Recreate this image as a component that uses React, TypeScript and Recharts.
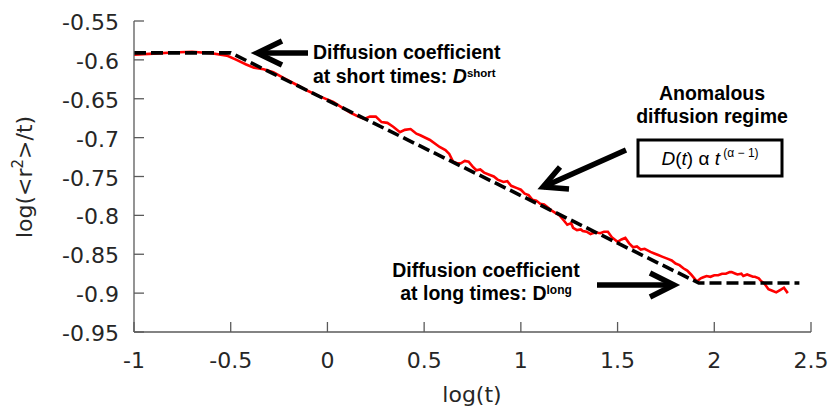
import React from 'react';
import { LineChart, Line, XAxis, YAxis } from 'recharts';

// Tick values
const xTicks = [-1, -0.5, 0, 0.5, 1, 1.5, 2, 2.5];
const yTicks = [-0.95, -0.9, -0.85, -0.8, -0.75, -0.7, -0.65, -0.6, -0.55];

// Measured mean-square displacement curve: log(t) and log(<r^2>/t)
const msdLogT = [
  -1.0, -0.9, -0.8, -0.7, -0.6, -0.52, -0.47, -0.42, -0.38, -0.33, -0.28, -0.22, -0.16, -0.1, -0.04,
  0.03, 0.08, 0.12, 0.16, 0.19, 0.22, 0.25, 0.28, 0.31, 0.34, 0.375, 0.4, 0.43, 0.46, 0.48,
  0.53, 0.58, 0.61, 0.63, 0.65, 0.67, 0.69, 0.71, 0.73, 0.75, 0.77, 0.79, 0.81, 0.84, 0.86,
  0.88, 0.91, 0.93, 0.95, 0.98, 1.0, 1.02, 1.04, 1.06, 1.08, 1.1, 1.12, 1.14, 1.16, 1.18,
  1.2, 1.22, 1.24, 1.26, 1.27, 1.29, 1.31, 1.32, 1.34, 1.36, 1.37, 1.39, 1.41, 1.43, 1.45,
  1.47, 1.49, 1.5, 1.52, 1.54, 1.56, 1.58, 1.6, 1.62, 1.64, 1.67, 1.69, 1.71, 1.73, 1.76,
  1.78, 1.8, 1.82, 1.84, 1.86, 1.88, 1.9, 1.91, 1.93, 1.94, 1.96, 1.98, 2.0, 2.02, 2.04,
  2.06, 2.08, 2.09, 2.11, 2.12, 2.14, 2.15, 2.17, 2.18, 2.2, 2.21, 2.23, 2.24, 2.26, 2.28,
  2.3, 2.32, 2.34, 2.36, 2.38,
];
const msdLogR2t = [
  -0.5935, -0.592, -0.5905, -0.5895, -0.5915, -0.5945, -0.6, -0.606, -0.61, -0.612, -0.616, -0.624, -0.632, -0.64, -0.647,
  -0.654, -0.662, -0.668, -0.673, -0.676, -0.673, -0.673, -0.68, -0.681, -0.686, -0.693, -0.69, -0.689, -0.695, -0.697,
  -0.703, -0.712, -0.716, -0.721, -0.731, -0.733, -0.733, -0.73, -0.731, -0.737, -0.742, -0.741, -0.745, -0.748, -0.75,
  -0.754, -0.757, -0.756, -0.762, -0.765, -0.767, -0.772, -0.774, -0.78, -0.781, -0.785, -0.786, -0.79, -0.794, -0.797,
  -0.8, -0.806, -0.812, -0.81, -0.816, -0.819, -0.818, -0.82, -0.821, -0.824, -0.823, -0.822, -0.823, -0.821, -0.821,
  -0.828, -0.832, -0.834, -0.831, -0.829, -0.836, -0.841, -0.84, -0.844, -0.843, -0.847, -0.849, -0.851, -0.853, -0.856,
  -0.858, -0.862, -0.864, -0.868, -0.871, -0.876, -0.882, -0.885, -0.881, -0.88, -0.878, -0.879, -0.877, -0.877, -0.875,
  -0.875, -0.873, -0.873, -0.875, -0.876, -0.875, -0.878, -0.876, -0.877, -0.879, -0.879, -0.881, -0.884, -0.888, -0.895,
  -0.897, -0.899, -0.896, -0.893, -0.9,
];

// Piecewise fit: short-time plateau, anomalous power-law regime, long-time plateau
const fitLogT = [-1.0, -0.5, 1.92, 2.44];
const fitLogR2t = [-0.591, -0.591, -0.887, -0.887];

const measured = msdLogT.map((x, i) => ({ x, y: msdLogR2t[i] }));
const fit = fitLogT.map((x, i) => ({ x, y: fitLogR2t[i] }));

const AXIS = '#5a5a5a';
const TXT = '#262626';
const TICK_FONT = '"DejaVu Sans", Verdana, sans-serif';
const NOTE_FONT = '"Liberation Sans", Arial, sans-serif';
const TICK_LEN = 10;

const BottomTick = (props: any) => {
  const { x, y, payload } = props;
  return (
    <g>
      <line x1={x} y1={y} x2={x} y2={y - TICK_LEN} stroke={AXIS} strokeWidth={1.3} />
      <text x={x} y={y + 36} textAnchor="middle" fontSize={22} fontFamily={TICK_FONT} fill={TXT}>
        {String(payload.value)}
      </text>
    </g>
  );
};

const TopTick = (props: any) => {
  const { x, y } = props;
  return <line x1={x} y1={y} x2={x} y2={y + TICK_LEN} stroke={AXIS} strokeWidth={1.3} />;
};

const LeftTick = (props: any) => {
  const { x, y, payload } = props;
  return (
    <g>
      <line x1={x} y1={y} x2={x + TICK_LEN} y2={y} stroke={AXIS} strokeWidth={1.3} />
      <text x={x - 15} y={y + 9} textAnchor="end" fontSize={22} fontFamily={TICK_FONT} fill={TXT}>
        {String(payload.value)}
      </text>
    </g>
  );
};

const RightTick = (props: any) => {
  const { x, y } = props;
  return <line x1={x} y1={y} x2={x - TICK_LEN} y2={y} stroke={AXIS} strokeWidth={1.3} />;
};

const Arrow = ({ from, to, arms }: { from: [number, number]; to: [number, number]; arms: [number, number][] }) => (
  <g stroke="#000" strokeWidth={5.5} fill="none" strokeLinecap="butt" strokeLinejoin="miter">
    <line x1={from[0]} y1={from[1]} x2={to[0]} y2={to[1]} />
    <polyline points={`${arms[0][0]},${arms[0][1]} ${to[0]},${to[1]} ${arms[1][0]},${arms[1][1]}`} />
  </g>
);

export default function App() {
  const axisLine = { stroke: AXIS, strokeWidth: 1.3 };
  return (
    <div style={{ position: 'absolute', left: 0, top: 0, width: 833, height: 410, background: '#fff', fontFamily: TICK_FONT }}>
      <LineChart width={833} height={410} margin={{ top: 21, right: 22, bottom: 0, left: 0 }}>
        <XAxis
          type="number"
          dataKey="x"
          domain={[-1, 2.5]}
          ticks={xTicks}
          interval={0}
          height={78}
          tickSize={0}
          tickMargin={0}
          tickLine={false}
          axisLine={axisLine}
          tick={BottomTick}
          allowDataOverflow
        />
        <XAxis
          xAxisId="top"
          orientation="top"
          type="number"
          dataKey="x"
          domain={[-1, 2.5]}
          ticks={xTicks}
          interval={0}
          height={0}
          tickSize={0}
          tickMargin={0}
          tickLine={false}
          axisLine={axisLine}
          tick={TopTick}
          allowDataOverflow
        />
        <YAxis
          type="number"
          dataKey="y"
          domain={[-0.95, -0.55]}
          ticks={yTicks}
          interval={0}
          width={134}
          tickSize={0}
          tickMargin={0}
          tickLine={false}
          axisLine={axisLine}
          tick={LeftTick}
          allowDataOverflow
        />
        <YAxis
          yAxisId="right"
          orientation="right"
          type="number"
          dataKey="y"
          domain={[-0.95, -0.55]}
          ticks={yTicks}
          interval={0}
          width={0}
          tickSize={0}
          tickMargin={0}
          tickLine={false}
          axisLine={axisLine}
          tick={RightTick}
          allowDataOverflow
        />
        <Line
          data={measured}
          dataKey="y"
          type="linear"
          stroke="#ff0000"
          strokeWidth={2.6}
          dot={false}
          isAnimationActive={false}
        />
        <Line
          data={fit}
          dataKey="y"
          type="linear"
          stroke="#000"
          strokeWidth={3.6}
          strokeDasharray="12 5"
          dot={false}
          isAnimationActive={false}
        />
      </LineChart>
      <svg width={833} height={410} style={{ position: 'absolute', left: 0, top: 0, pointerEvents: 'none' }}>
        {/* axis titles */}
        <text x={472} y={402} textAnchor="middle" fontSize={22} fontFamily={TICK_FONT} fill={TXT}>log(t)</text>
        <text
          x={32}
          y={177}
          textAnchor="middle"
          fontSize={22}
          fontFamily={TICK_FONT}
          fill={TXT}
          transform="rotate(-90 32 177)"
        >
          log(&lt;r<tspan fontSize={15} dy={-9}>2</tspan><tspan dy={9}>&gt;/t)</tspan>
        </text>

        {/* short-time plateau note */}
        <Arrow from={[308, 53]} to={[257, 53]} arms={[[282, 41], [282, 65]]} />
        <g fontFamily={NOTE_FONT} fontWeight="bold" fontSize={19.5} fill="#000">
          <text x={313} y={59}>Diffusion coefficient</text>
          <text x={313} y={83}>
            at short times: <tspan fontStyle="italic">D</tspan>
            <tspan fontSize={11.5} dy={-6}>short</tspan>
          </text>
        </g>

        {/* anomalous regime note */}
        <g fontFamily={NOTE_FONT} fontWeight="bold" fontSize={19.5} fill="#000" textAnchor="middle">
          <text x={712} y={100}>Anomalous</text>
          <text x={712} y={123}>diffusion regime</text>
        </g>
        <rect x={638} y={140} width={144} height={36} fill="#fff" stroke="#000" strokeWidth={3} />
        <text x={710} y={165} textAnchor="middle" fontFamily={NOTE_FONT} fontSize={19} fill="#000">
          <tspan fontStyle="italic">D</tspan>(<tspan fontStyle="italic">t</tspan>) α <tspan fontStyle="italic">t</tspan>
          <tspan fontSize={12} dy={-8}> (α − 1)</tspan>
        </text>
        <Arrow from={[626, 150]} to={[543, 187]} arms={[[560, 167], [569, 189]]} />

        {/* long-time plateau note */}
        <g fontFamily={NOTE_FONT} fontWeight="bold" fontSize={19.5} fill="#000" textAnchor="middle">
          <text x={486} y={277}>Diffusion coefficient</text>
          <text x={486} y={300}>
            at long times: D<tspan fontSize={12} dy={-6}>long</tspan>
          </text>
        </g>
        <Arrow from={[597, 285]} to={[674, 285]} arms={[[650, 273], [650, 297]]} />
      </svg>
    </div>
  );
}
